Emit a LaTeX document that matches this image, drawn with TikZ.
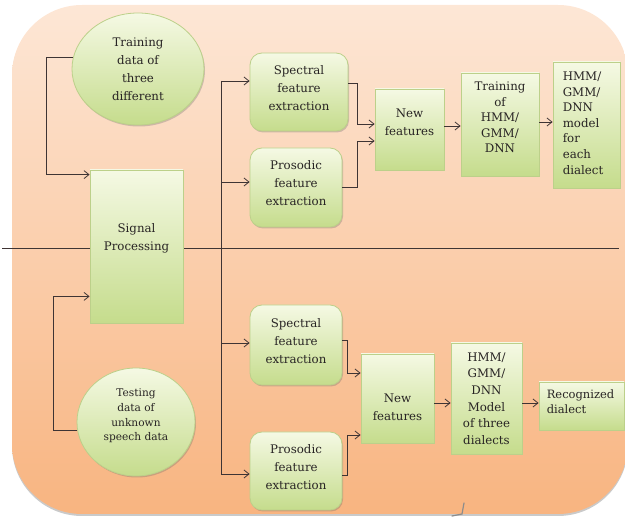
\documentclass[tikz,border=0pt]{standalone}
\usepackage{fontspec}
\setmainfont{DejaVu Serif}
\usetikzlibrary{shapes.geometric,shadows,arrows.meta}

\definecolor{bgTop}{RGB}{253,231,214}
\definecolor{bgBot}{RGB}{248,180,128}
\definecolor{gTop}{RGB}{245,249,228}
\definecolor{gBot}{RGB}{197,220,140}
\definecolor{gEdge}{RGB}{188,208,138}
\definecolor{wire}{RGB}{62,52,52}
\definecolor{ink}{RGB}{40,36,36}

\tikzset{
  gfill/.style={top color=gTop, bottom color=gBot, draw=gEdge, line width=0.8pt,
    drop shadow={shadow xshift=1pt, shadow yshift=-1.5pt, opacity=0.3, fill=black!60}},
  sqbox/.style={gfill, rectangle, inner sep=0pt},
  rbox/.style={sqbox, rounded corners=12pt},
  oval/.style={gfill, ellipse, inner sep=0pt},
  txt/.style={align=center, inner sep=0pt, text=ink,
    font=\fontsize{11.8}{18}\selectfont},
  txttight/.style={txt, font=\fontsize{11.8}{15.6}\selectfont},
  wireline/.style={draw=wire, line width=0.8pt},
  arr/.style={wireline, -{Straight Barb[length=5pt,width=8pt]}},
}

\begin{document}
\begin{tikzpicture}[x=1pt,y=-1pt]
\useasboundingbox (0,0) rectangle (625,518);
\clip (0,0) rectangle (625,518);

% peach backdrop
\path[top color=bgTop, bottom color=bgBot, rounded corners=70pt,
  drop shadow={shadow xshift=0pt, shadow yshift=-2pt, opacity=0.35, fill=black!60}]
  (12,5) rectangle (628,514);

% training / testing divider and the distribution bus
\coordinate (divL) at (2,248);
\coordinate (divR) at (619,248);
\draw[wireline] (divL) -- (divR);
\coordinate (bus1) at (221,81);
\coordinate (bus2) at (221,182);
\coordinate (bus3) at (221,343);
\coordinate (bus4) at (221,474);
\draw[wireline] (bus1) -- (bus4);

% left column
\node[oval, minimum width=132, minimum height=112] (train) at (138,69) {};
\node[txt] (trainT) at (train.center) {Training\\data of\\three\\different};
\node[sqbox, minimum width=93, minimum height=153] (sig) at (136.5,246.5) {};
\node[txt] (sigT) at ([yshift=8pt]sig.center) {Signal\\Processing};
\node[oval, minimum width=118, minimum height=108] (test) at (136,422) {};
\node[txt, font=\fontsize{10.6}{14.7}\selectfont] (testT) at ([yshift=6pt]test.center)
  {Testing\\data of\\unknown\\speech data};

% training branch
\node[rbox, minimum width=98, minimum height=78] (spec1) at (299,92) {};
\node[txt] (spec1T) at ([yshift=4pt]spec1.center) {Spectral\\feature\\extraction};
\node[rbox, minimum width=92, minimum height=79] (pros1) at (296,187.5) {};
\node[txt] (pros1T) at ([yshift=4.5pt]pros1.center) {Prosodic\\feature\\extraction};
\node[sqbox, minimum width=69, minimum height=81] (nf1) at (409.5,129.5) {};
\node[txt] (nf1T) at ([yshift=7.5pt]nf1.center) {New\\features};
\node[sqbox, minimum width=78, minimum height=103] (trn) at (500,124.5) {};
\node[txttight] (trnT) at ([yshift=7pt]trn.center) {Training\\of\\HMM/\\GMM/\\DNN};
\node[sqbox, minimum width=67, minimum height=126] (hmm1) at (586.5,125) {};
\node[txttight, align=left, anchor=west] (hmm1T) at ([xshift=10pt,yshift=2pt]hmm1.west)
  {HMM/\\GMM/\\DNN\\model\\for\\each\\dialect};

% testing branch
\node[rbox, minimum width=92, minimum height=80] (spec2) at (296,345) {};
\node[txt] (spec2T) at ([yshift=3.5pt]spec2.center) {Spectral\\feature\\extraction};
\node[rbox, minimum width=92, minimum height=78] (pros2) at (296,471) {};
\node[txt] (pros2T) at ([yshift=4pt]pros2.center) {Prosodic\\feature\\extraction};
\node[sqbox, minimum width=73, minimum height=89] (nf2) at (397.5,398.5) {};
\node[txt] (nf2T) at ([yshift=-8.5pt]nf2.center) {New\\features};
\node[sqbox, minimum width=71, minimum height=111] (mdl2) at (486.5,398.5) {};
\node[txt, font=\fontsize{11.8}{16.6}\selectfont] (mdl2T) at (mdl2.center)
  {HMM/\\GMM/\\DNN\\Model\\of three\\dialects};
\node[sqbox, minimum width=85, minimum height=48] (rec) at (581.5,406) {};
\node[txttight, align=left, anchor=west, font=\fontsize{11.5}{15.5}\selectfont] (recT)
  at ([xshift=8pt,yshift=4.5pt]rec.west) {Recognized\\dialect};

% inputs into signal processing
\draw[arr] (train.170) -| ([xshift=-43pt,yshift=-5pt]sig.north west)
  -- ([yshift=-5pt]sig.north west);
\draw[arr] (test.188) -| ([xshift=-36pt,yshift=27pt]sig.south west)
  -- ([yshift=27pt]sig.south west);

% bus to the feature extractors
\draw[arr] (bus1) -- (bus1 -| spec1.west);
\draw[arr] (bus2) -- (bus2 -| pros1.west);
\draw[arr] (bus3) -- (bus3 -| spec2.west);
\draw[arr] (bus4) -- (bus4 -| pros2.west);

% training chain
\draw[arr] ([yshift=9pt]spec1.east) -| ([xshift=-17pt,yshift=5.5pt]nf1.west)
  -- ([yshift=5.5pt]nf1.west);
\draw[arr] (pros1.east) -| ([xshift=-17pt,yshift=-11.5pt]nf1.west)
  -- ([yshift=-11.5pt]nf1.west);
\draw[arr] ([yshift=3.5pt]nf1.east) -- ([yshift=3.5pt]nf1.east -| trn.west);
\draw[arr] ([yshift=2.5pt]trn.east) -- ([yshift=2.5pt]trn.east -| hmm1.west);

% testing chain
\draw[arr] ([yshift=5pt]spec2.east) -| ([xshift=-13pt,yshift=25.5pt]nf2.west)
  -- ([yshift=25.5pt]nf2.west);
\draw[arr] ([yshift=-4pt]pros2.east) -| ([xshift=-13pt,yshift=-36.5pt]nf2.west)
  -- ([yshift=-36.5pt]nf2.west);
\draw[arr] ([yshift=-4.5pt]nf2.east) -- ([yshift=-4.5pt]nf2.east -| mdl2.west);
\draw[arr] ([yshift=-4.5pt]mdl2.east) -- ([yshift=-4.5pt]mdl2.east -| rec.west);

% stray pen mark at the lower edge
\draw[black!45, line width=1.2pt, line cap=round] (452,516) -- (462,514) -- (464,503);
\end{tikzpicture}
\end{document}
